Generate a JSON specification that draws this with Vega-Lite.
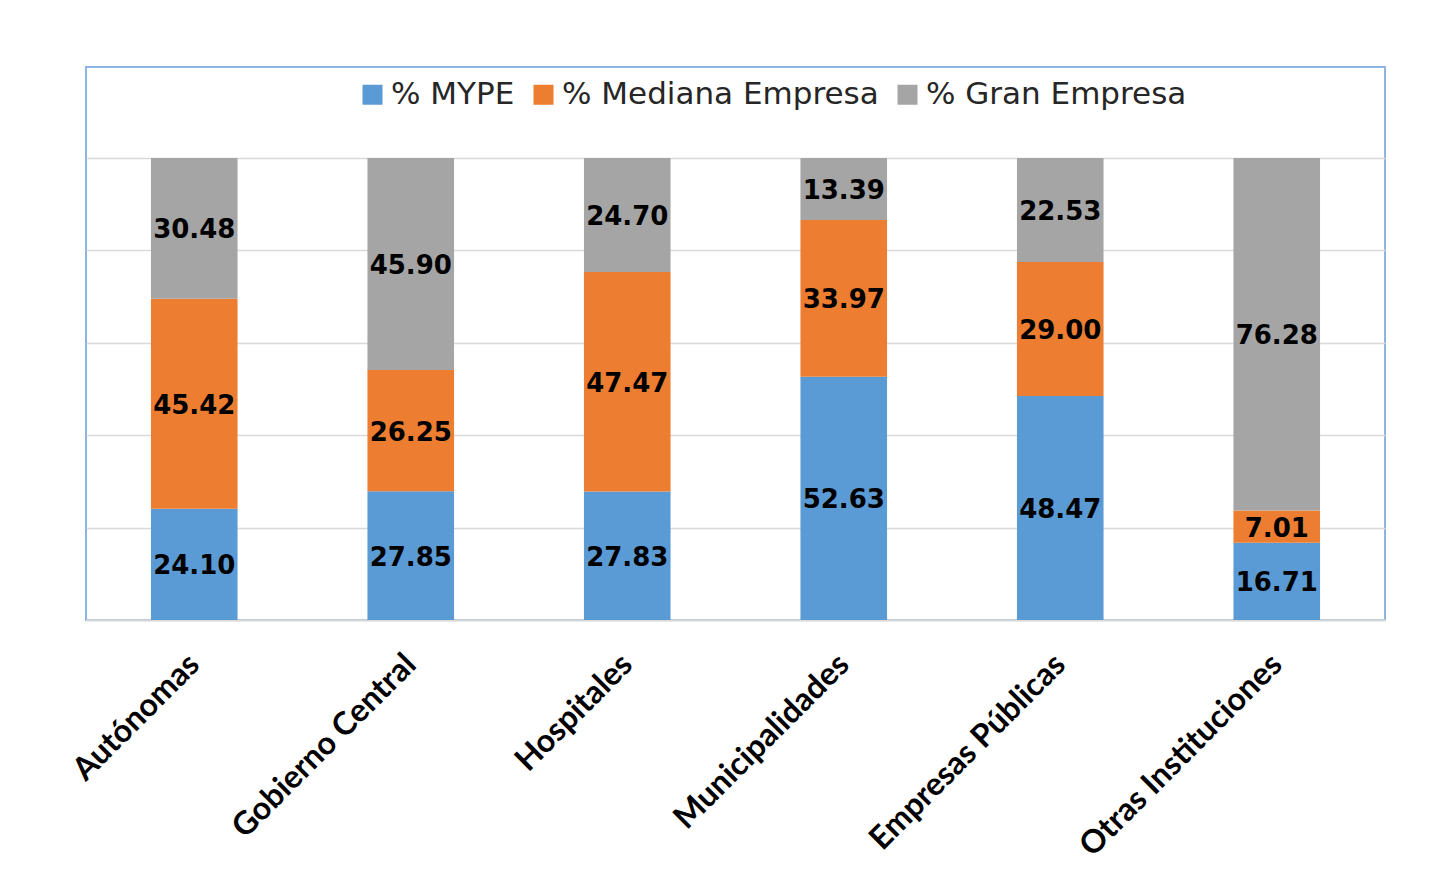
{
  "$schema": "https://vega.github.io/schema/vega-lite/v6.json",
  "width": 1299,
  "height": 553,
  "autosize": {"type": "none"},
  "padding": {"left": 86, "top": 67, "right": 56, "bottom": 259},
  "background": "white",
  "config": {"view": {"stroke": "#8eb4e3", "strokeWidth": 2}},
  "data": {
    "values": [
      {"cat": "Autónomas", "series": "% MYPE", "ord": 1, "value": 24.10},
      {"cat": "Autónomas", "series": "% Mediana Empresa", "ord": 2, "value": 45.42},
      {"cat": "Autónomas", "series": "% Gran Empresa", "ord": 3, "value": 30.48},
      {"cat": "Gobierno Central", "series": "% MYPE", "ord": 1, "value": 27.85},
      {"cat": "Gobierno Central", "series": "% Mediana Empresa", "ord": 2, "value": 26.25},
      {"cat": "Gobierno Central", "series": "% Gran Empresa", "ord": 3, "value": 45.90},
      {"cat": "Hospitales", "series": "% MYPE", "ord": 1, "value": 27.83},
      {"cat": "Hospitales", "series": "% Mediana Empresa", "ord": 2, "value": 47.47},
      {"cat": "Hospitales", "series": "% Gran Empresa", "ord": 3, "value": 24.70},
      {"cat": "Municipalidades", "series": "% MYPE", "ord": 1, "value": 52.63},
      {"cat": "Municipalidades", "series": "% Mediana Empresa", "ord": 2, "value": 33.97},
      {"cat": "Municipalidades", "series": "% Gran Empresa", "ord": 3, "value": 13.39},
      {"cat": "Empresas Públicas", "series": "% MYPE", "ord": 1, "value": 48.47},
      {"cat": "Empresas Públicas", "series": "% Mediana Empresa", "ord": 2, "value": 29.00},
      {"cat": "Empresas Públicas", "series": "% Gran Empresa", "ord": 3, "value": 22.53},
      {"cat": "Otras Instituciones", "series": "% MYPE", "ord": 1, "value": 16.71},
      {"cat": "Otras Instituciones", "series": "% Mediana Empresa", "ord": 2, "value": 7.01},
      {"cat": "Otras Instituciones", "series": "% Gran Empresa", "ord": 3, "value": 76.28}
    ]
  },
  "encoding": {
    "x": {
      "field": "cat",
      "type": "nominal",
      "sort": null,
      "title": null,
      "scale": {"paddingInner": 0.6, "paddingOuter": 0.3},
      "axis": {
        "labelAngle": -45,
        "labelAlign": "right",
        "labelBaseline": "middle",
        "labelFont": "Lato",
        "labelFontWeight": "bold",
        "labelFontSize": 32,
        "labelColor": "#000000",
        "labelPadding": 39,
        "labelLimit": 0,
        "ticks": false,
        "domain": true,
        "domainColor": "#d9d9d9",
        "domainWidth": 2,
        "grid": false
      }
    }
  },
  "layer": [
    {
      "mark": {"type": "bar"},
      "encoding": {
        "y": {
          "field": "value",
          "type": "quantitative",
          "stack": "zero",
          "title": null,
          "scale": {"domain": [0, 100], "range": [553, 91], "nice": false},
          "axis": {
            "values": [0, 20, 40, 60, 80, 100],
            "labels": false,
            "ticks": false,
            "domain": false,
            "grid": true,
            "gridColor": "#d9d9d9",
            "gridWidth": 1.5
          }
        },
        "order": {"field": "ord", "type": "quantitative"},
        "color": {
          "field": "series",
          "type": "nominal",
          "scale": {
            "domain": ["% MYPE", "% Mediana Empresa", "% Gran Empresa"],
            "range": ["#5b9bd5", "#ed7d31", "#a5a5a5"]
          },
          "legend": {
            "title": null,
            "orient": "none",
            "legendX": 271,
            "legendY": 12,
            "direction": "horizontal",
            "symbolType": "square",
            "symbolSize": 400,
            "symbolStrokeWidth": 0,
            "labelFont": "DejaVu Sans",
            "labelFontSize": 31,
            "labelColor": "#262626",
            "labelOffset": 3,
            "columnPadding": 13,
            "labelLimit": 0,
            "padding": 0
          }
        }
      }
    },
    {
      "transform": [
        {"stack": "value", "groupby": ["cat"], "sort": [{"field": "ord", "order": "ascending"}], "as": ["lo", "hi"]},
        {"fold": ["lo", "hi"], "as": ["edge", "pos"]},
        {"aggregate": [{"op": "mean", "field": "pos", "as": "mid"}], "groupby": ["cat", "series", "value"]}
      ],
      "mark": {"type": "text", "font": "DejaVu Sans", "fontWeight": "bold", "fontSize": 26, "color": "#000000", "baseline": "middle", "align": "center", "dy": 2},
      "encoding": {
        "y": {"field": "mid", "type": "quantitative"},
        "text": {"field": "value", "type": "quantitative", "format": ".2f"}
      }
    }
  ]
}
